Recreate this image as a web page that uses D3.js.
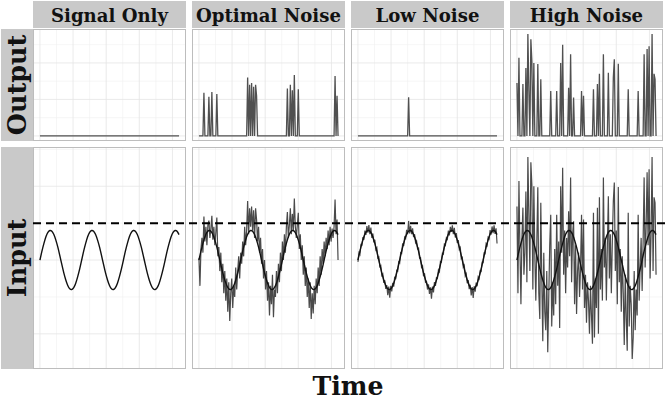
<!DOCTYPE html>
<html><head><meta charset="utf-8">
<script src="https://cdn.jsdelivr.net/npm/d3@7"></script>
<style>body{margin:0;background:#fff}</style>
</head><body><svg id="c" width="665" height="402"></svg>
<script>
// ---------- data ----------
const panels = ["Signal Only", "Optimal Noise", "Low Noise", "High Noise"];
const rows = ["Output", "Input"];
const xLabel = "Time";
const threshold = 1.0;
const sampleStep = 0.03;   // time between noisy samples
const signalStep = 0.06;   // time between signal samples

const signal = [0,.24,.45,.63,.75,.80,.78,.69,.54,.35,.12,-.12,-.35,-.54,-.69,-.78,-.80,-.75,-.63,-.45,-.24,
0,.24,.45,.63,.75,.80,.78,.69,.54,.35,.12,-.12,-.35,-.54,-.69,-.78,-.80,-.75,-.63,-.45,-.24,
0,.24,.45,.63,.75,.80,.78,.69,.54,.35,.12,-.12,-.35,-.54,-.69,-.78,-.80,-.75,-.63,-.45,-.24,
0,.24,.45,.63,.75,.80,.78,.69];

const optimalNoise = [0.05,-0.7,0.3,0.6,0.2,1.18,0.5,0.9,0.4,0.95,1.07,0.6,0.85,1.2,0.55,0.9,0.4,0.75,1.15,0.1,
0.35,-0.3,0.2,-0.6,-0.1,-0.9,-0.3,-1.1,-0.5,-1.4,-0.6,-1.65,-0.9,-0.5,-1.3,-0.7,-1.0,-0.2,-0.8,-0.3,
0.1,-0.5,0.2,-0.1,0.5,0.1,0.9,0.4,0.8,1.6,0.7,1.4,0.9,1.45,0.8,1.35,0.6,1.4,1.1,0.5,
0.9,0.2,0.6,-0.1,0.3,-0.5,0.0,-0.8,-0.3,-1.1,-0.6,-1.5,-0.7,-1.2,-0.4,-1.55,-0.8,-1.0,-0.3,-0.9,
-0.1,-0.6,0.2,-0.3,0.5,0.0,0.7,0.2,0.9,1.3,0.6,0.95,1.4,0.7,1.25,0.8,1.67,0.9,0.6,0.95,
1.28,0.3,0.7,0.0,0.4,-0.4,0.1,-0.7,-0.2,-1.0,-0.5,-1.3,-0.6,-1.6,-0.9,-1.45,-0.7,-1.2,-0.5,-0.9,
-0.2,-0.7,0.1,-0.4,0.3,-0.1,0.5,0.1,0.6,0.3,0.8,0.4,0.9,0.5,0.85,0.6,0.9,1.64,0.7,1.1,0.0];

const lowNoise = [-0.05,0.2,0.15,0.42,0.4,0.62,0.55,0.8,0.68,0.92,0.74,0.95,0.7,0.88,0.6,0.72,0.48,0.55,0.28,0.33,0.05,
0.08,-0.18,-0.15,-0.42,-0.38,-0.62,-0.55,-0.78,-0.68,-0.95,-0.72,-1.02,-0.7,-0.85,-0.62,-0.72,-0.45,-0.52,-0.28,-0.3,-0.05,
-0.08,0.2,0.18,0.45,0.38,0.62,0.58,0.82,0.7,1.06,0.72,0.93,0.7,0.86,0.62,0.7,0.47,0.52,0.3,0.32,0.05,
0.06,-0.2,-0.16,-0.44,-0.36,-0.6,-0.58,-0.8,-0.66,-0.92,-0.74,-1.05,-0.72,-0.88,-0.6,-0.7,-0.48,-0.5,-0.27,-0.32,-0.04,
-0.06,0.18,0.16,0.43,0.4,0.6,0.56,0.8,0.67,0.9,0.76,0.94,0.7,0.87,0.61,0.73,0.46,0.54,0.29,0.34,0.04,
0.07,-0.19,-0.14,-0.43,-0.37,-0.63,-0.54,-0.79,-0.67,-0.96,-0.73,-1.03,-0.71,-0.86,-0.61,-0.71,-0.46,-0.51,-0.29,-0.31,-0.06,
-0.07,0.19,0.17,0.44,0.39,0.61,0.57,0.81,0.69,0.91,0.73,0.94,0.71,0.86,0.45];

const highNoise = [1.45,-0.9,2.14,0.3,-1.2,0.6,1.42,-0.4,0.2,1.86,-0.6,2.79,1.23,-0.3,2.65,2.05,-0.8,2.0,0.1,-1.1,
0.5,1.97,-0.9,-1.6,1.55,-0.5,-2.2,0.2,-1.4,-1.9,-0.3,-2.5,-1.0,0.4,1.23,-1.8,-0.6,-1.5,0.3,-1.2,
1.23,-0.7,0.5,-1.84,2.0,0.2,2.5,-0.4,0.8,-0.9,0.6,-0.2,1.32,0.1,2.24,-0.6,0.7,1.05,-1.2,0.4,
-1.46,-0.3,0.2,-1.0,-0.2,1.23,-0.8,1.1,-1.3,-0.4,-1.7,-0.6,-1.1,-2.0,-0.7,-1.5,-2.27,1.28,-2.1,-0.5,
-1.3,1.42,-2.0,1.7,-0.8,0.3,-1.1,2.24,-0.2,0.6,-1.1,0.4,1.73,-0.5,0.7,-0.9,0.5,1.6,2.1,-0.3,
0.8,-1.2,1.98,-0.6,0.3,-1.4,0.1,-0.9,-2.3,-0.4,-1.6,-2.46,1.28,-1.8,-0.7,-1.2,-2.68,-2.1,-0.3,-1.9,
-0.8,-1.5,1.23,-1.1,-0.2,0.6,-0.84,0.5,2.24,-0.2,0.9,2.38,0.4,2.46,-0.5,0.7,2.79,-0.3,1.7,1.55,-0.4];

// ---------- derived series ----------
const toPts = (arr, step) => arr.map((v, i) => ({t: i * step, v}));
const sigPts = toPts(signal, signalStep);
const inputs = [null, optimalNoise, lowNoise, highNoise].map(a => a ? toPts(a, sampleStep) : null);
const outputs = inputs.map((pts, k) => (pts || sigPts).map(d => ({t: d.t, v: d.v >= threshold ? d.v : 0})));

// ---------- layout ----------
const svg = d3.select("#c");
const left = 33, right = 663, gap = 6;
const pw = (right - left - 3 * gap) / 4;
const stripTop = 1, stripBot = 28;
const outTop = 29, outBot = 141, inTop = 147, inBot = 369;

const pad = ([a, b]) => { const r = b - a; return [a - 0.05 * r, b + 0.05 * r]; };
const tMax = (optimalNoise.length - 1) * sampleStep;
const xDom = pad([0, tMax]);
const allOut = outputs.flat().map(d => d.v);
const allIn = [signal, optimalNoise, lowNoise, highNoise].flat().concat([threshold]);
const yOut = d3.scaleLinear().domain(pad(d3.extent(allOut))).range([outBot, outTop]);
const yIn = d3.scaleLinear().domain(pad(d3.extent(allIn))).range([inBot, inTop]);

const font = "'DejaVu Serif', serif";

function grid(g, x, y) {
  const [x0, x1] = x.range(), [y0, y1] = y.range();
  const xMaj = x.ticks(5), yMaj = y.ticks(3);
  const xs = xMaj[1] - xMaj[0], ys = yMaj[1] - yMaj[0];
  const xd = x.domain(), yd = y.domain();
  const xMin = d3.range(xMaj[0] - xs / 2, xMaj[xMaj.length - 1] + xs, xs).filter(v => v > xd[0] && v < xd[1]);
  const yMin = d3.range(yMaj[0] - ys / 2, yMaj[yMaj.length - 1] + ys, ys).filter(v => v > yd[0] && v < yd[1]);
  g.selectAll(null).data(xMin).join("line").attr("x1", d => x(d)).attr("x2", d => x(d)).attr("y1", y0).attr("y2", y1)
    .attr("stroke", "#f0f0f0").attr("stroke-width", 0.6);
  g.selectAll(null).data(yMin).join("line").attr("y1", d => y(d)).attr("y2", d => y(d)).attr("x1", x0).attr("x2", x1)
    .attr("stroke", "#f0f0f0").attr("stroke-width", 0.6);
  g.selectAll(null).data(xMaj).join("line").attr("x1", d => x(d)).attr("x2", d => x(d)).attr("y1", y0).attr("y2", y1)
    .attr("stroke", "#e4e4e4").attr("stroke-width", 0.8);
  g.selectAll(null).data(yMaj).join("line").attr("y1", d => y(d)).attr("y2", d => y(d)).attr("x1", x0).attr("x2", x1)
    .attr("stroke", "#e4e4e4").attr("stroke-width", 0.8);
}

const stripTexts = [];
panels.forEach((name, k) => {
  const x0 = left + k * (pw + gap);
  const x = d3.scaleLinear().domain(xDom).range([x0, x0 + pw]);
  // strip
  svg.append("rect").attr("x", x0).attr("y", stripTop).attr("width", pw).attr("height", stripBot - stripTop).attr("fill", "#c9c9c9");
  stripTexts.push(svg.append("text").attr("x", x0 + pw / 2).attr("y", 22).attr("text-anchor", "middle")
    .attr("font-family", font).attr("font-weight", "bold").attr("font-size", 16).attr("fill", "#111").text(name));

  const line = y => d3.line().x(d => x(d.t)).y(d => y(d.v));

  // output panel
  const go = svg.append("g");
  go.append("rect").attr("x", x0).attr("y", outTop).attr("width", pw).attr("height", outBot - outTop).attr("fill", "#fff");
  grid(go, x, yOut);
  go.append("path").datum(outputs[k]).attr("d", line(yOut)).attr("fill", "none").attr("stroke", "#505050").attr("stroke-width", 1.3);
  go.append("rect").attr("x", x0 + 0.5).attr("y", outTop + 0.5).attr("width", pw - 1).attr("height", outBot - outTop - 1)
    .attr("fill", "none").attr("stroke", "#bdbdbd").attr("stroke-width", 1);

  // input panel
  const gi = svg.append("g");
  gi.append("rect").attr("x", x0).attr("y", inTop).attr("width", pw).attr("height", inBot - inTop).attr("fill", "#fff");
  grid(gi, x, yIn);
  if (inputs[k]) gi.append("path").datum(inputs[k]).attr("d", line(yIn)).attr("fill", "none").attr("stroke", "#4a4a4a").attr("stroke-width", 1.2);
  gi.append("path").datum(sigPts).attr("d", line(yIn).curve(d3.curveNatural)).attr("fill", "none").attr("stroke", "#111").attr("stroke-width", 1.4);
  gi.append("rect").attr("x", x0 + 0.5).attr("y", inTop + 0.5).attr("width", pw - 1).attr("height", inBot - inTop - 1)
    .attr("fill", "none").attr("stroke", "#bdbdbd").attr("stroke-width", 1);
});

// row strips
const rowSpans = [[outTop, outBot], [inTop, inBot]];
const rowTexts = [];
rows.forEach((name, r) => {
  const [a, b] = rowSpans[r];
  svg.append("rect").attr("x", 1).attr("y", a).attr("width", left - 1).attr("height", b - a).attr("fill", "#c9c9c9");
  rowTexts.push(svg.append("text").attr("transform", `translate(17,${(a + b) / 2}) rotate(-90)`).attr("text-anchor", "middle")
    .attr("dominant-baseline", "central").attr("font-family", font).attr("font-weight", "bold").attr("font-size", 22)
    .attr("fill", "#111").text(name));
});

// threshold dashed line across the input row
svg.append("line").attr("x1", left).attr("x2", 665).attr("y1", yIn(threshold)).attr("y2", yIn(threshold))
  .attr("stroke", "#000").attr("stroke-width", 2).attr("stroke-dasharray", "8,5");

// x label
const xl = svg.append("text").attr("x", (left + right) / 2).attr("y", 395).attr("text-anchor", "middle")
  .attr("font-family", font).attr("font-weight", "bold").attr("font-size", 26).attr("fill", "#111").text(xLabel);

// fit text sizes to the reference widths
function fitGroup(sels, targets, base) {
  const m = d3.sum(sels, s => s.node().getComputedTextLength());
  const size = base * d3.sum(targets) / m;
  sels.forEach(s => s.attr("font-size", size.toFixed(2)));
}
fitGroup(stripTexts, [117, 144, 105, 113], 16);
fitGroup(rowTexts, [100, 79], 22);
fitGroup([xl], [71], 26);
</script></body></html>
